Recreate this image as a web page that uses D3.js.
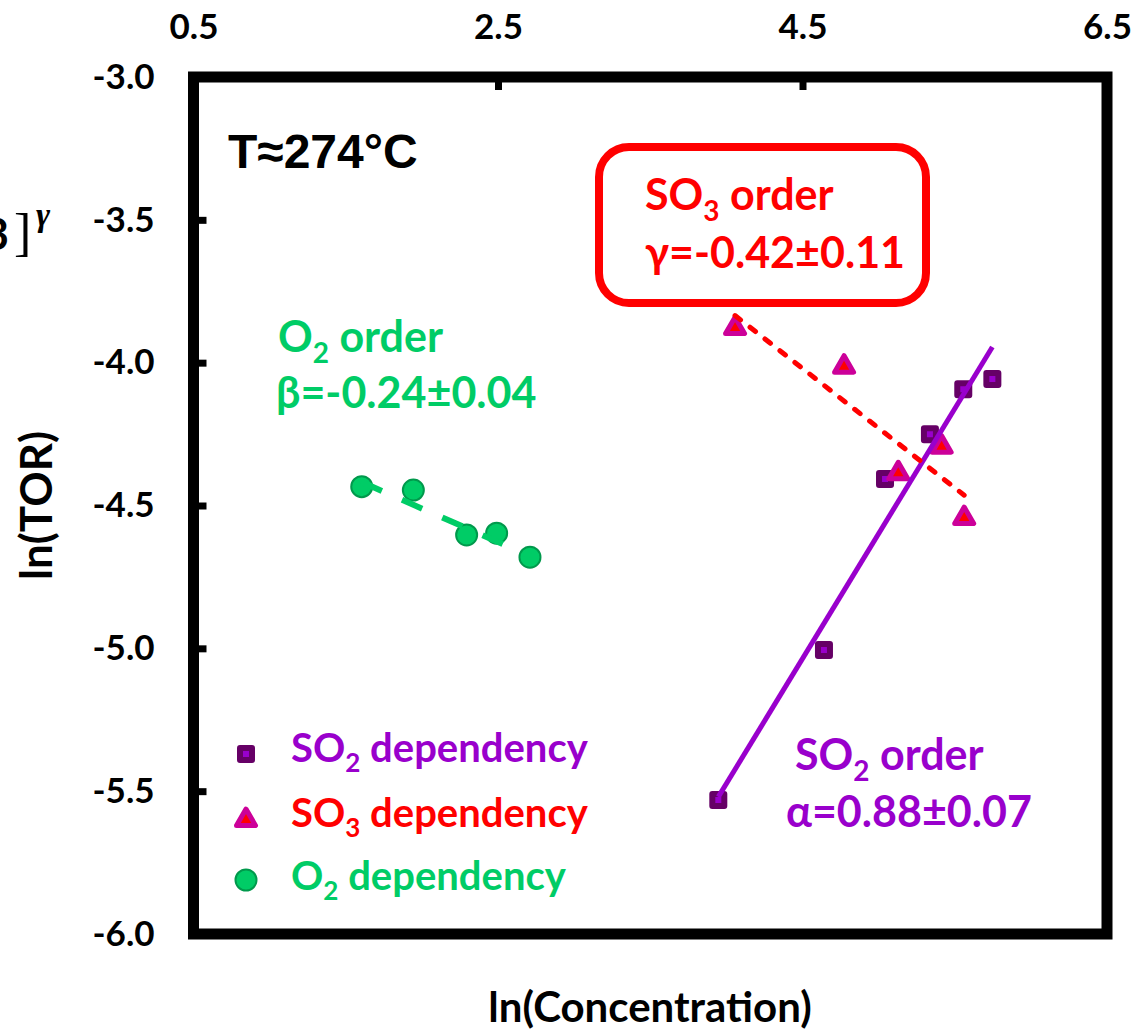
<!DOCTYPE html>
<html>
<head>
<meta charset="utf-8">
<script src="https://cdn.jsdelivr.net/npm/d3@7"></script>
<style>
  body { margin: 0; background: #fff; }
  svg { display: block; }
  text { font-family: Lato, 'Open Sans', 'Noto Sans', sans-serif; font-weight: bold; }
</style>
</head>
<body>
<div id="chart"></div>
<script>
// tick values
const xTicks = [0.5, 2.5, 4.5, 6.5];
const yTicks = [-3.0, -3.5, -4.0, -4.5, -5.0, -5.5, -6.0];

// SO2 dependency (squares)
const so2X = [3.947, 4.641, 5.042, 5.337, 5.556, 5.747];
const so2Y = [-5.531, -5.006, -4.407, -4.251, -4.093, -4.057];
// SO3 dependency (triangles)
const so3X = [4.057, 4.773, 5.129, 5.414, 5.562];
const so3Y = [-3.879, -4.014, -4.387, -4.294, -4.544];
// O2 dependency (circles)
const o2X = [1.605, 1.944, 2.294, 2.491, 2.710];
const o2Y = [-4.434, -4.446, -4.603, -4.597, -4.681];

// fitted lines, end points
const so2FitX = [3.947, 5.747], so2FitY = [-5.52, -3.945];
const so3FitX = [4.057, 5.562], so3FitY = [-3.835, -4.464];
const o2FitX = [1.605, 2.710], o2FitY = [-4.418, -4.677];

const W = 1145, H = 1036;
const PURPLE = '#9900CC', DARKPURPLE = '#660066', RED = '#FF0000', MAGENTA = '#CC0099', GREEN = '#00CC66', DARKGREEN = '#00994C';

const svg = d3.select('#chart').append('svg').attr('width', W).attr('height', H);

const x = d3.scaleLinear().domain([0.5, 6.5]).range([193.5, 1107]);
const y = d3.scaleLinear().domain([-6, -3]).range([934, 77]);

const fmt = d => d.toFixed(1);

const gx = svg.append('g').attr('transform', `translate(0,${y(-3)})`)
  .call(d3.axisTop(x).tickValues(xTicks).tickSizeInner(-13).tickSizeOuter(0).tickPadding(38).tickFormat(fmt));
const gy = svg.append('g').attr('transform', `translate(${x(0.5)},0)`)
  .call(d3.axisLeft(y).tickValues(yTicks).tickSizeInner(-13).tickSizeOuter(0).tickPadding(39).tickFormat(fmt));
[gx, gy].forEach(g => {
  g.attr('font-size', null).attr('font-family', null);
  g.select('.domain').remove();
  g.selectAll('.tick line').attr('stroke', '#000').attr('stroke-width', 7);
  g.selectAll('.tick text').attr('fill', '#000').style('font-size', '35px');
});

// frame
svg.append('rect').attr('x', x(0.5)).attr('y', y(-3))
  .attr('width', x(6.5) - x(0.5)).attr('height', y(-6) - y(-3))
  .attr('fill', 'none').attr('stroke', '#000').attr('stroke-width', 11);

// axis titles
svg.append('text').attr('x', 650).attr('y', 1022).attr('text-anchor', 'middle')
  .style('font-size', '42px').attr('fill', '#000').text('ln(Concentration)');
svg.append('text').attr('transform', `translate(52,${(y(-3) + y(-6)) / 2}) rotate(-90)`).attr('text-anchor', 'middle')
  .style('font-size', '44px').attr('fill', '#000').text('ln(TOR)');

// clipped formula piece at left edge
svg.append('text').attr('x', 9).attr('y', 250).attr('text-anchor', 'end').style('font-size', '44px').attr('fill', '#000')
  .text('[SO3');
svg.append('text').attr('x', 14).attr('y', 250).style('font-family', "'Liberation Serif', serif").style('font-weight', 'normal')
  .style('font-size', '52px').attr('fill', '#000').text(']');
svg.append('text').attr('x', 36).attr('y', 226).style('font-family', "'Liberation Serif', serif").style('font-style', 'italic')
  .style('font-size', '34px').attr('fill', '#000').text('γ');

const toPts = (xs, ys) => xs.map((v, i) => [v, ys[i]]);
const line = d3.line().x(d => x(d[0])).y(d => y(d[1]));

// markers
const tri = d3.symbol().type(d3.symbolTriangle).size(156);
svg.append('g').selectAll('rect').data(toPts(so2X, so2Y)).join('rect')
  .attr('x', d => x(d[0]) - 6).attr('y', d => y(d[1]) - 6).attr('width', 12).attr('height', 12)
  .attr('fill', PURPLE).attr('stroke', DARKPURPLE).attr('stroke-width', 6).attr('stroke-linejoin', 'round');
svg.append('g').selectAll('path').data(toPts(so3X, so3Y)).join('path')
  .attr('d', tri).attr('transform', d => `translate(${x(d[0])},${y(d[1])})`)
  .attr('fill', RED).attr('stroke', MAGENTA).attr('stroke-width', 5).attr('stroke-linejoin', 'round');
svg.append('g').selectAll('circle').data(toPts(o2X, o2Y)).join('circle')
  .attr('cx', d => x(d[0])).attr('cy', d => y(d[1])).attr('r', 10.5)
  .attr('fill', GREEN).attr('stroke', DARKGREEN).attr('stroke-width', 2);

// fit lines
svg.append('path').datum(toPts(so2FitX, so2FitY)).attr('d', line)
  .attr('fill', 'none').attr('stroke', PURPLE).attr('stroke-width', 5);
svg.append('path').datum(toPts(so3FitX, so3FitY)).attr('d', line)
  .attr('fill', 'none').attr('stroke', RED).attr('stroke-width', 5)
  .attr('stroke-dasharray', '7,12').attr('stroke-linecap', 'round');
svg.append('path').datum(toPts(o2FitX, o2FitY)).attr('d', line)
  .attr('fill', 'none').attr('stroke', GREEN).attr('stroke-width', 6)
  .attr('stroke-dasharray', '22,22');

// rich text helper: parts are strings or {sub: '2'}
function rich(px, py, parts, color, size) {
  const t = svg.append('text').attr('x', px).attr('y', py).attr('fill', color).style('font-size', size + 'px');
  parts.forEach(p => {
    if (typeof p === 'string') t.append('tspan').text(p);
    else t.append('tspan').style('font-size', (size * 0.65) + 'px').style('baseline-shift', (-size * 0.25) + 'px').text(p.sub);
  });
  return t;
}

svg.append('text').attr('x', 228).attr('y', 168).style('font-family', "'Liberation Sans', Arial, sans-serif")
  .style('font-size', '48px').attr('fill', '#000').text('T≈274°C');

rich(278, 352, ['O', {sub: '2'}, ' order'], GREEN, 43);
rich(276, 408, ['β=-0.24±0.04'], GREEN, 43);

svg.append('rect').attr('x', 599).attr('y', 147).attr('width', 327).attr('height', 156).attr('rx', 30)
  .attr('fill', 'none').attr('stroke', RED).attr('stroke-width', 8);
rich(645, 210, ['SO', {sub: '3'}, ' order'], RED, 43);
rich(645, 268, ['γ=-0.42±0.11'], RED, 43);

rich(795, 770, ['SO', {sub: '2'}, ' order'], PURPLE, 43);
rich(786, 827, ['α=0.88±0.07'], PURPLE, 43);

// legend
const leg = svg.append('g');
leg.append('rect').attr('x', 240).attr('y', 748).attr('width', 12).attr('height', 12)
  .attr('fill', PURPLE).attr('stroke', DARKPURPLE).attr('stroke-width', 6).attr('stroke-linejoin', 'round');
leg.append('path').attr('d', tri).attr('transform', 'translate(246,820)')
  .attr('fill', RED).attr('stroke', MAGENTA).attr('stroke-width', 5).attr('stroke-linejoin', 'round');
leg.append('circle').attr('cx', 246).attr('cy', 880).attr('r', 10.5)
  .attr('fill', GREEN).attr('stroke', DARKGREEN).attr('stroke-width', 2);
rich(291, 762, ['SO', {sub: '2'}, ' dependency'], PURPLE, 40);
rich(291, 827, ['SO', {sub: '3'}, ' dependency'], RED, 40);
rich(291, 890, ['O', {sub: '2'}, ' dependency'], GREEN, 40);
</script>
</body>
</html>
